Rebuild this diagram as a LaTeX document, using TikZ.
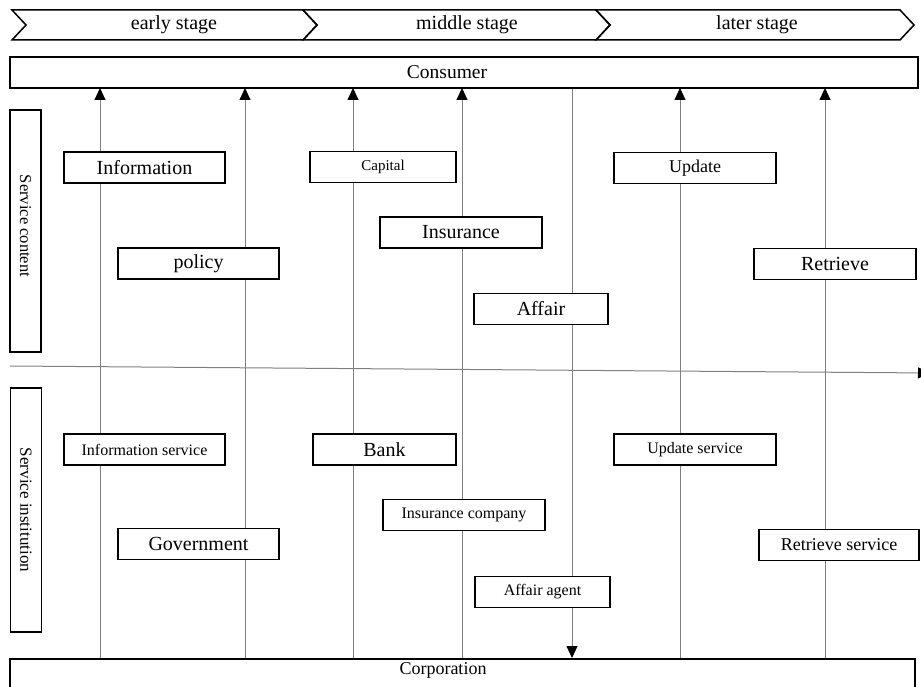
\documentclass[tikz,border=0pt]{standalone}
\usepackage{fontspec}
\setmainfont{Liberation Serif}
\usetikzlibrary{arrows.meta}
\newcommand{\fsz}[1]{\fontsize{#1}{#1}\selectfont}
\begin{document}
\begin{tikzpicture}[x=1pt,y=-1pt,
  box/.style={draw,line width=1.5pt,fill=white,inner sep=0pt,minimum height=31pt},
  sidebox/.style={draw,line width=1.5pt,fill=white,inner sep=0pt,minimum width=31pt},
  chev/.style={draw,line width=1.5pt},
  vline/.style={draw=black!50,line width=0.9pt},
  blacktip/.style={-{Triangle[width=11pt,length=12pt,color=black,fill=black]}},
  plain/.style={inner sep=0pt},
]
\useasboundingbox (0,0) rectangle (921,687);

% stage chevrons
\draw[chev] (12,10) -- (303,10) -- (317,25) -- (303,40) -- (12,40) -- (26,25) -- cycle;
\draw[chev] (303,10) -- (596,10) -- (610,25) -- (596,40) -- (303,40) -- (317,25) -- cycle;
\draw[chev] (596,10) -- (900,10) -- (914,25) -- (900,40) -- (596,40) -- (610,25) -- cycle;
\node[plain] (early) at (174,25) {\fsz{20}early stage};
\node[plain] (middle) at (467,25) {\fsz{20}middle stage};
\node[plain] (later) at (757,25) {\fsz{20}later stage};

% coordinates for the vertical connectors
\foreach \i/\x in {1/100,2/245,3/353,4/462,5/572,6/680,7/825}{
  \coordinate (t\i) at (\x,88);
  \coordinate (b\i) at (\x,658);
}
\coordinate (hstart) at (10,366);
\coordinate (hend) at (930,373);

% horizontal divider
\draw[vline,blacktip,line width=1pt] (hstart) -- (hend);

% vertical connectors
\foreach \i in {1,2,3,4,6,7}{
  \draw[vline,blacktip] (b\i) -- (t\i);
}
\draw[vline,blacktip] (t5) -- (b5);

% consumer / corporation
\node[box,minimum width=908pt] (consumer) at (464,72.5) {};
\node[plain] (consumerlbl) at (447,72) {\fsz{19.5}Consumer};
\node[box,minimum width=905pt,minimum height=44pt,anchor=north] (corp) at (462.5,658) {};
\node[plain] (corplbl) at (443,670) {\fsz{18}Corporation};

% side labels
\node[sidebox,minimum height=242pt] (content) at (25.5,231) {};
\node[plain,rotate=-90] (contentlbl) at (25.5,226) {\fsz{16.5}Service content};
\node[sidebox,minimum height=244pt] (inst) at (26,510) {};
\node[plain,rotate=-90] (instlbl) at (26,510) {\fsz{17}Service institution};

% service content boxes
\node[box,minimum width=161pt] (info) at (144.5,167.5) {\fsz{20}Information};
\node[box,minimum width=161pt] (policy) at (198.5,263.5) {\fsz{20}policy};
\node[box,minimum width=146pt] (capital) at (383,167) {\raisebox{2pt}{\fsz{15}Capital}};
\node[box,minimum width=162pt] (insurance) at (461,232.5) {\fsz{20}Insurance};
\node[box,minimum width=134pt] (affair) at (541,309) {\fsz{20}Affair};
\node[box,minimum width=162pt] (update) at (695,168) {\raisebox{2pt}{\fsz{18}Update}};
\node[box,minimum width=162pt] (retrieve) at (835,264) {\fsz{20}Retrieve};

% service institution boxes
\node[box,minimum width=161pt] (infoserv) at (144.5,449.5) {\fsz{16}Information service};
\node[box,minimum width=161pt] (gov) at (198.5,544) {\fsz{20}Government};
\node[box,minimum width=143pt] (bank) at (384.5,449.5) {\fsz{20}Bank};
\node[box,minimum width=162pt] (inscomp) at (464,515) {\fsz{16}Insurance company};
\node[box,minimum width=162pt] (updserv) at (695,449.5) {\fsz{16}Update service};
\node[box,minimum width=160pt] (retrserv) at (839,545) {\fsz{18}Retrieve service};
\node[box,minimum width=135pt] (affagent) at (542.5,592) {\fsz{16}Affair agent};
\end{tikzpicture}
\end{document}
